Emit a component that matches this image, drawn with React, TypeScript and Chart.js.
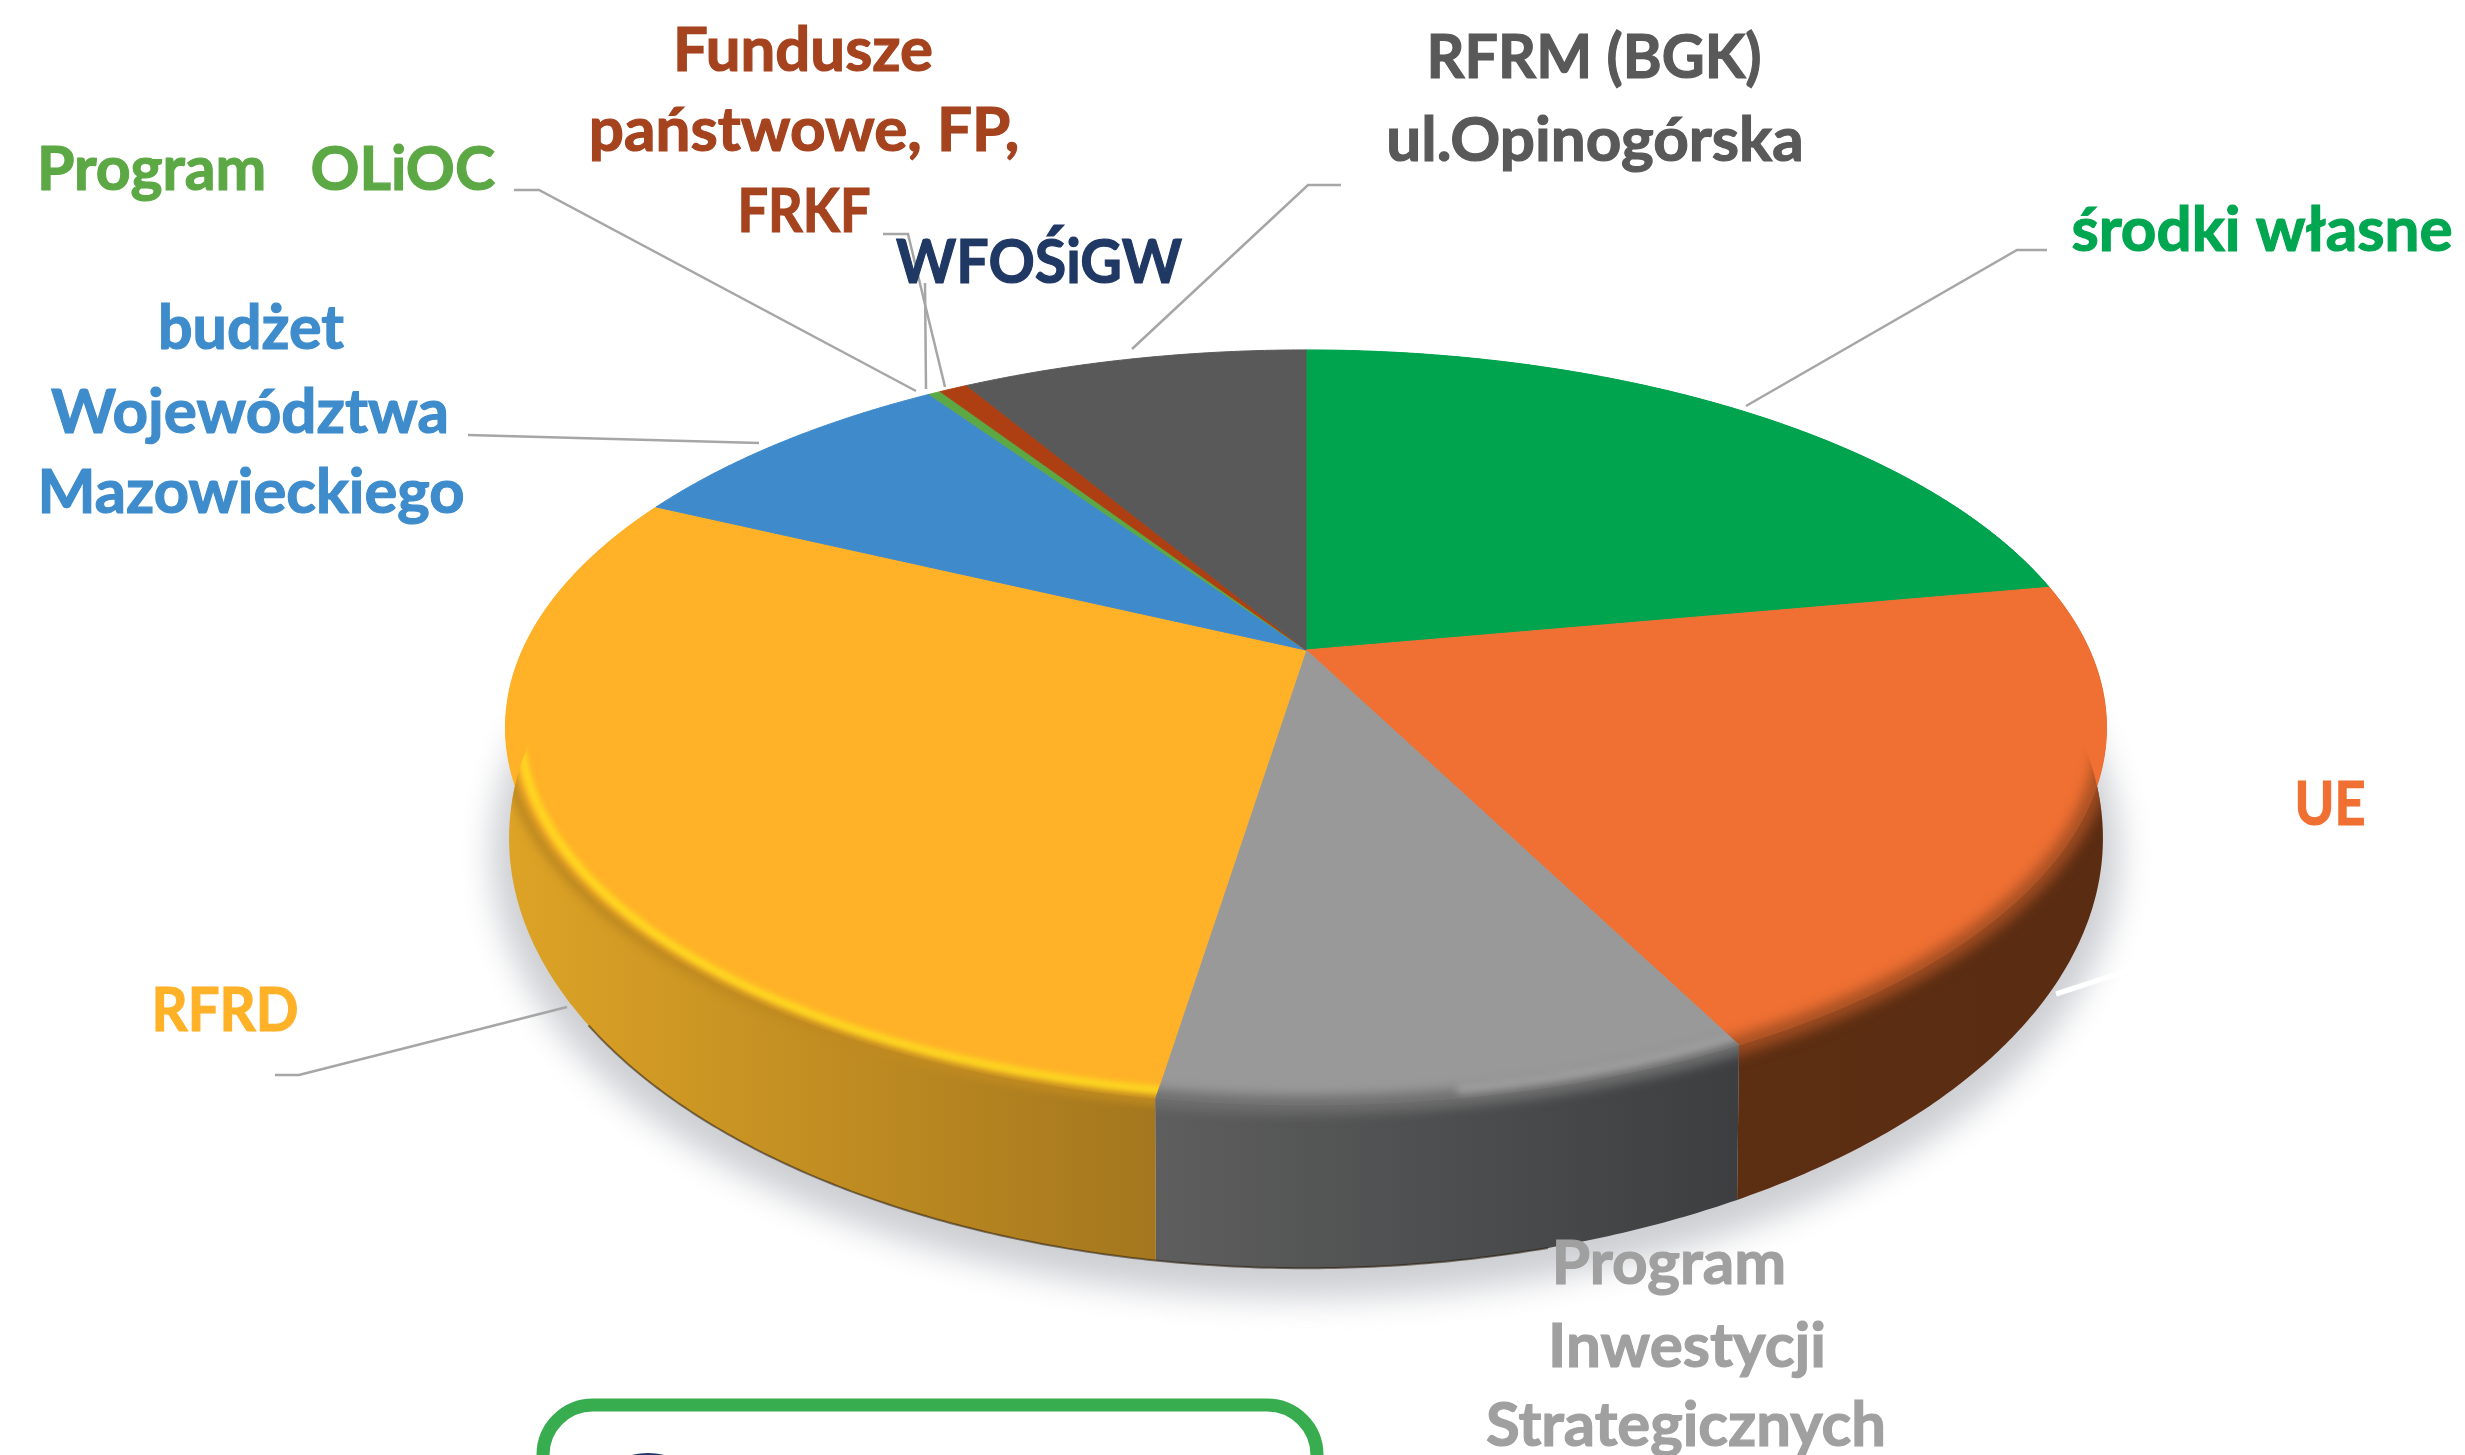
import React, { useEffect, useRef } from "react";
import { Chart, registerables } from "chart.js";

Chart.register(...registerables);

// ---- data (share of the total, %) ----
const categories = [
  "środki własne",
  "UE",
  "Program Inwestycji Strategicznych",
  "RFRD",
  "budżet Województwa Mazowieckiego",
  "Program OLiOC",
  "Fundusze państwowe, FP, FRKF",
  "WFOŚiGW",
  "RFRM (BGK) ul.Opinogórska",
];
const shares = [22.1, 20.4, 9.9, 29.6, 8.4, 0.3, 0.7, 0, 8.5];
const sliceColours = ["#00A44F", "#F07033", "#999999", "#FFB128", "#3F8ACB", "#5CA845", "#AD3F12", "#1F3864", "#595959"];

// ---- style & layout only ----
const W = 2465;
const H = 1455;
const TOP = { cx: 1306, cy: 650, a: 783.5, b: 361.6 };
const BASE = { cx: 1306, cy: 750, a: 780, b: 412 };
const TILT = 0.205;
const FONT = "bold 62px Lato, Carlito, sans-serif";

const wallStops: (string[] | null)[] = [
  ["#00602E", "#00602E"],
  ["#5C2E12", "#5A2C12"],
  ["#5E5E5E", "#3C3E40"],
  ["#DDA326", "#A4771E"],
  null,
  null,
  null,
  null,
  null,
];

const labelText = [
  { lines: [["Fundusze", 803, 71, 260], ["państwowe, FP,", 804, 151, 439], ["FRKF", 804, 232, 133]], colour: "#A5431F" },
  { lines: [["RFRM (BGK)", 1594, 78, 335], ["ul.Opinogórska", 1595, 161, 420]], colour: "#595959" },
  { lines: [["środki własne", 2262, 251, 386]], colour: "#00A650" },
  { lines: [["UE", 2330, 825, 71]], colour: "#F07033" },
  { lines: [["Program", 1669, 1284, 236], ["Inwestycji", 1687, 1367, 278], ["Strategicznych", 1686, 1446, 400]], colour: "#A0A0A0" },
  { lines: [["RFRD", 225, 1031, 147]], colour: "#FFB128" },
  { lines: [["budżet", 251, 349, 186], ["Województwa", 250, 433, 400], ["Mazowieckiego", 251, 513, 427]], colour: "#3E8CCB" },
  { lines: [["Program   OLiOC", 266, 190, 458]], colour: "#5CA845" },
  { lines: [["WFOŚiGW", 1039, 283, 286]], colour: "#1F3864" },
] as { lines: [string, number, number, number][]; colour: string }[];

const leaders: number[][][] = [
  [[1746, 406], [2017, 250], [2047, 250]],
  [[1132, 349], [1308, 185], [1341, 185]],
  [[514, 190], [539, 190], [916, 391]],
  [[883, 234], [908, 234], [945, 387]],
  [[925, 283], [926, 389]],
  [[468, 435], [759, 443]],
  [[275, 1075], [299, 1075], [567, 1007]],
];

type Geo = { cx: number; cy: number; a: number; b: number };

function project(angle: number, g: Geo, k = 1): [number, number] {
  const u = Math.cos(angle);
  const v = Math.sin(angle);
  const d = 1 - TILT * v;
  return [g.cx + (k * g.a * u) / d, g.cy + (k * g.b * v) / d];
}

function arcPoints(start: number, end: number, g: Geo, k = 1): [number, number][] {
  const n = Math.max(2, Math.ceil(Math.abs(end - start) / 0.008));
  const pts: [number, number][] = [];
  for (let i = 0; i <= n; i++) pts.push(project(start + ((end - start) * i) / n, g, k));
  return pts;
}

function trace(ctx: CanvasRenderingContext2D, pts: [number, number][], move = true) {
  pts.forEach((p, i) => (i === 0 && move ? ctx.moveTo(p[0], p[1]) : ctx.lineTo(p[0], p[1])));
}

const tilted3d = {
  id: "tilted3d",
  beforeDatasetsDraw(chart: any) {
    const ctx: CanvasRenderingContext2D = chart.ctx;
    const arcs = chart.getDatasetMeta(0).data;
    const wall = (el: any) => {
      ctx.beginPath();
      trace(ctx, arcPoints(el.startAngle, el.endAngle, TOP));
      trace(ctx, arcPoints(el.endAngle, el.startAngle, BASE), false);
      ctx.closePath();
    };
    const face = (el: any) => {
      ctx.beginPath();
      ctx.moveTo(TOP.cx, TOP.cy);
      trace(ctx, arcPoints(el.startAngle, el.endAngle, TOP), false);
      ctx.closePath();
    };

    // soft ground shadow
    ctx.save();
    ctx.filter = "blur(16px)";
    ctx.fillStyle = "rgba(172,175,182,0.6)";
    ctx.beginPath();
    ctx.ellipse(1306, 854, 814, 444, 0, 0, Math.PI * 2);
    ctx.fill();
    ctx.restore();

    // side walls
    arcs.forEach((el: any, i: number) => {
      const stops = wallStops[i];
      if (!stops || el.endAngle - el.startAngle < 1e-4) return;
      const xs = arcPoints(el.startAngle, el.endAngle, BASE).map((p) => p[0]);
      const g = ctx.createLinearGradient(Math.min(...xs), 0, Math.max(...xs), 0);
      g.addColorStop(0, stops[0]);
      g.addColorStop(1, stops[1]);
      ctx.fillStyle = g;
      wall(el);
      ctx.fill();
    });

    // thin dark foot of the wall
    ctx.save();
    ctx.beginPath();
    trace(ctx, arcPoints(Math.PI * 0.42, Math.PI * 0.8, BASE));
    ctx.strokeStyle = "rgba(40,25,10,0.55)";
    ctx.lineWidth = 2;
    ctx.stroke();
    ctx.restore();

    // top faces
    arcs.forEach((el: any, i: number) => {
      if (el.endAngle - el.startAngle < 1e-4) return;
      ctx.fillStyle = sliceColours[i];
      ctx.strokeStyle = sliceColours[i];
      ctx.lineWidth = 1;
      face(el);
      ctx.fill();
      ctx.stroke();
    });

    // soft bevel between the face and the wall
    const rim = (i: number, from: number, to: number, k: number, colour: string, width: number, blur: number) => {
      const el = arcs[i];
      const len = el.endAngle - el.startAngle;
      ctx.save();
      ctx.beginPath();
      ctx.moveTo(TOP.cx, TOP.cy);
      trace(ctx, arcPoints(el.startAngle, el.endAngle, TOP), false);
      ctx.closePath();
      trace(ctx, arcPoints(el.startAngle, el.endAngle, BASE));
      trace(ctx, arcPoints(el.endAngle, el.startAngle, TOP), false);
      ctx.closePath();
      ctx.clip();
      ctx.filter = `blur(${blur}px)`;
      ctx.strokeStyle = colour;
      ctx.lineWidth = width;
      ctx.lineCap = "butt";
      ctx.beginPath();
      trace(ctx, arcPoints(el.startAngle + from * len, el.startAngle + to * len, TOP, k));
      ctx.stroke();
      ctx.restore();
    };
    rim(1, 0.12, 1.1, 1.0, "#A34E22", 18, 7);
    rim(2, -0.1, 1.1, 1.0, "#6E6E6E", 18, 6);
    rim(2, -0.1, 0.5, 0.982, "#B0B0B0", 6, 4);
    rim(3, -0.1, 0.82, 1.002, "#C08A20", 12, 4);
    rim(3, -0.1, 0.68, 0.982, "#FFE01F", 7, 3);
    rim(3, 0.66, 0.8, 0.982, "rgba(255,215,35,0.55)", 8, 5);

    return false; // the arcs are drawn here, tilted, not flat
  },
  afterDraw(chart: any) {
    const ctx: CanvasRenderingContext2D = chart.ctx;

    // leader lines
    ctx.save();
    ctx.strokeStyle = "#A6A6A6";
    ctx.lineWidth = 2.5;
    leaders.forEach((l) => {
      ctx.beginPath();
      l.forEach((p, i) => (i ? ctx.lineTo(p[0], p[1]) : ctx.moveTo(p[0], p[1])));
      ctx.stroke();
    });
    // the white leader of the UE label
    ctx.strokeStyle = "#FFFFFF";
    ctx.lineWidth = 5;
    ctx.beginPath();
    ctx.moveTo(2056, 994);
    ctx.lineTo(2142, 966);
    ctx.stroke();
    ctx.restore();

    // green frame, running off the bottom of the picture
    ctx.save();
    ctx.strokeStyle = "#37AD50";
    ctx.lineWidth = 13;
    ctx.beginPath();
    ctx.roundRect(543, 1405, 774, 200, 50);
    ctx.stroke();
    ctx.fillStyle = "#1F3864";
    ctx.beginPath();
    ctx.ellipse(648, 1475, 40, 22, 0, 0, Math.PI * 2);
    ctx.fill();
    ctx.restore();

    // labels
    ctx.save();
    ctx.filter = "blur(0.7px)";
    ctx.font = FONT;
    ctx.textAlign = "center";
    ctx.textBaseline = "alphabetic";
    ctx.lineWidth = 1.2;
    labelText.forEach((l) => {
      ctx.fillStyle = l.colour;
      ctx.strokeStyle = l.colour;
      l.lines.forEach(([t, x, y, w]) => {
        ctx.fillText(t, x, y, w);
        ctx.strokeText(t, x, y, w);
      });
    });
    ctx.restore();
  },
};

export default function App() {
  const ref = useRef<HTMLCanvasElement>(null);
  useEffect(() => {
    document.body.style.margin = "0";
    document.body.style.background = "#fff";
    const chart = new Chart(ref.current!, {
      type: "pie",
      data: {
        labels: categories,
        datasets: [{ data: shares, backgroundColor: sliceColours, borderWidth: 0 }],
      },
      options: {
        animation: false,
        responsive: false,
        devicePixelRatio: 1,
        plugins: { legend: { display: false }, tooltip: { enabled: false } },
      },
      plugins: [tilted3d],
    });
    return () => chart.destroy();
  }, []);
  return <canvas ref={ref} width={W} height={H} style={{ display: "block", width: W, height: H }} />;
}
